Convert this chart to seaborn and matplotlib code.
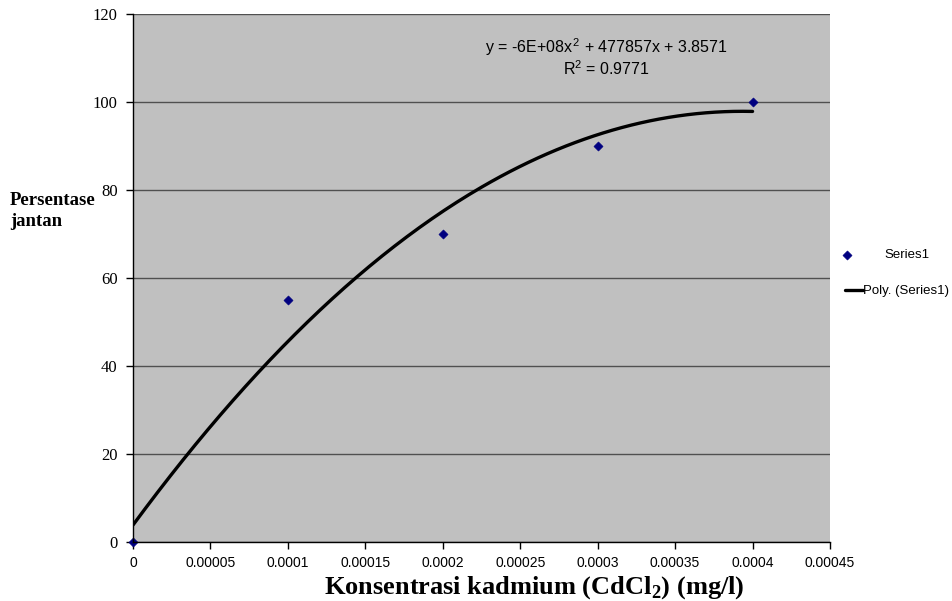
import numpy as np
import pandas as pd
import matplotlib
matplotlib.use("Agg")
import matplotlib.pyplot as plt
import seaborn as sb

# data
konsentrasi = [0.0, 0.0001, 0.0002, 0.0003, 0.0004]
persentase = [0, 55, 70, 90, 100]
x_ticks = [0, 0.00005, 0.0001, 0.00015, 0.0002, 0.00025, 0.0003, 0.00035, 0.0004, 0.00045]
x_tick_labels = ['0', '0.00005', '0.0001', '0.00015', '0.0002', '0.00025',
                 '0.0003', '0.00035', '0.0004', '0.00045']
y_ticks = [0, 20, 40, 60, 80, 100, 120]

sb.set_style('white')
plt.rcParams['font.family'] = ['Liberation Sans', 'DejaVu Sans']
plt.rcParams['text.color'] = 'black'
plt.rcParams['xtick.color'] = 'black'
plt.rcParams['ytick.color'] = 'black'
plt.rcParams['mathtext.fontset'] = 'custom'
plt.rcParams['mathtext.rm'] = 'Liberation Sans'
plt.rcParams['mathtext.it'] = 'Liberation Sans'
plt.rcParams['mathtext.bf'] = 'Liberation Serif:bold'

df = pd.DataFrame({'x': konsentrasi, 'y': persentase})

# second order polynomial trendline, like Excel's
coef = np.polyfit(df['x'], df['y'], 2)
xs = np.linspace(0, max(konsentrasi), 200)
trend = pd.DataFrame({'x': xs, 'y': np.polyval(coef, xs)})

fig = plt.figure(figsize=(9.52, 6.01), dpi=100)
ax = fig.add_axes([133 / 952, 59 / 601, 697 / 952, 528 / 601])
ax.set_facecolor('#c0c0c0')

sb.lineplot(data=trend, x='x', y='y', ax=ax, color='black', linewidth=2.4,
            label='Poly. (Series1)', legend=False, zorder=3)
sb.scatterplot(data=df, x='x', y='y', ax=ax, marker='D', s=22, color='#000080',
               edgecolor='#000080', label='Series1', legend=False, zorder=4,
               clip_on=False)

ax.set_xlim(0, 0.00045)
ax.set_ylim(0, 120)
ax.set_xticks(x_ticks)
ax.set_xticklabels(x_tick_labels, fontsize=10)
ax.set_yticks(y_ticks)
ax.set_yticklabels([str(v) for v in y_ticks], fontsize=12, family='Liberation Serif')
ax.tick_params(axis='both', direction='out', length=5, width=1, colors='black',
               left=True, bottom=True)
ax.tick_params(axis='y', pad=6)
ax.tick_params(axis='x', pad=5)

ax.yaxis.grid(True, color='#505050', linewidth=1)
ax.xaxis.grid(False)
ax.set_axisbelow(True)
for side in ['top', 'right']:
    ax.spines[side].set_visible(False)
for side in ['left', 'bottom']:
    ax.spines[side].set_color('black')
    ax.spines[side].set_linewidth(1)
    ax.spines[side].set_zorder(5)

ax.set_xlabel('')
ax.set_ylabel('')

ax.text(0.0003054, 112.5, r'y = -6E+08x$^{\,2}$ + 477857x + 3.8571',
        ha='center', va='center', fontsize=11.5)
ax.text(0.0003054, 107.5, r'R$^{2}$ = 0.9771', ha='center', va='center', fontsize=11.5)

fig.text(534 / 952, 1 - 588 / 601, r'Konsentrasi kadmium (CdCl$_\mathbf{2}$) (mg/l)',
         ha='center', va='center', fontsize=19, fontweight='bold',
         family='Liberation Serif', math_fontfamily='custom')

fig.text(10 / 952, 1 - 211 / 601, 'Persentase\njantan', ha='left', va='center',
         fontsize=13.5, fontweight='bold', family='Liberation Serif', linespacing=1.25)

handles, labels = ax.get_legend_handles_labels()
lab_h = dict(zip(labels, handles))
fig.legend([lab_h['Series1']], ['Series1'], loc='center left',
           bbox_to_anchor=(840 / 952, 1 - 255 / 601), frameon=False, fontsize=9.5,
           handlelength=1.0, handletextpad=2.4, borderpad=0, borderaxespad=0)
fig.legend([lab_h['Poly. (Series1)']], ['Poly. (Series1)'], loc='center left',
           bbox_to_anchor=(845 / 952, 1 - 291 / 601), frameon=False, fontsize=9.5,
           handlelength=1.4, handletextpad=0.0, borderpad=0, borderaxespad=0)

fig.savefig('out.png', dpi=100)
